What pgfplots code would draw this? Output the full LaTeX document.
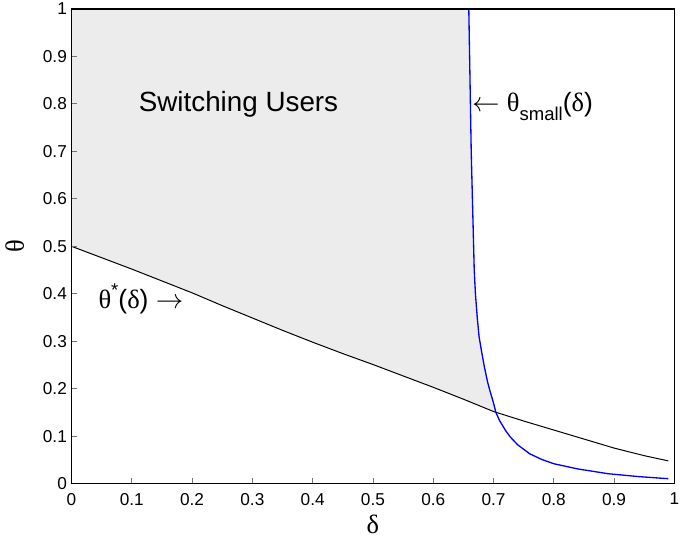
\documentclass[border=0pt]{standalone}
\usepackage{pgfplots}
\pgfplotsset{compat=1.18}
\usepackage{fontspec}
\setmainfont{Liberation Sans}
\newfontfamily\grk{Liberation Serif}
\definecolor{regiongray}{RGB}{236,236,236}
\definecolor{curveblue}{RGB}{0,0,255}

\pgfplotstableread{
d t
0 0.5
0.05 0.476
0.1 0.452
0.15 0.427
0.2 0.402
0.25 0.375
0.3 0.349
0.35 0.323
0.4 0.298
0.45 0.274
0.5 0.251
0.55 0.227
0.6 0.203
0.65 0.178
0.7 0.152
0.75 0.132
0.8 0.113
0.85 0.094
0.9 0.075
0.95 0.059
0.99 0.048
}\thetastar

\pgfplotstableread{
d t
0.659 1.0
0.661 0.85
0.663 0.70
0.665 0.6
0.668 0.45
0.670 0.40
0.673 0.35
0.676 0.31
0.680 0.28
0.685 0.245
0.690 0.215
0.694 0.196
0.700 0.170
0.704 0.150
0.71 0.133
0.72 0.112
0.728 0.098
0.74 0.082
0.76 0.063
0.78 0.051
0.80 0.042
0.84 0.031
0.89 0.021
0.94 0.015
0.99 0.0105
}\thetasmall

\begin{document}
\begin{tikzpicture}
\begin{axis}[name=ax, scale only axis, width=455.25pt, height=358.5pt,
  xmin=0, xmax=1, ymin=0, ymax=1,
  xtick={0,0.1,0.2,0.3,0.4,0.5,0.6,0.7,0.8,0.9,1},
  ytick={0,0.1,0.2,0.3,0.4,0.5,0.6,0.7,0.8,0.9,1},
  tick pos=left, tick align=inside,
  major tick length=4.5pt,
  tick style={black!55, line width=0.6pt},
  axis line style={black, line width=1.1pt},
  ticklabel style={font=\fontsize{13}{15}\selectfont},
  xticklabel style={yshift=-3.5pt},
  /pgf/number format/assume math mode=true,
  xlabel={\grk δ}, ylabel={\grk θ},
  xlabel style={font=\fontsize{20}{22}\selectfont, at={(axis description cs:0.5,-0.086)}, anchor=center},
  ylabel style={font=\fontsize{20}{22}\selectfont, at={(axis description cs:-0.094,0.5)}, anchor=center},
  axis on top,
]
\addplot[fill=regiongray, draw=none] coordinates {
(0,1) (0,0.5) (0.05,0.476) (0.1,0.452) (0.15,0.427) (0.2,0.402) (0.25,0.375)
(0.3,0.349) (0.35,0.323) (0.4,0.298) (0.45,0.274) (0.5,0.251) (0.55,0.227)
(0.6,0.203) (0.65,0.178) (0.7,0.152) (0.704,0.150) (0.700,0.170) (0.694,0.196)
(0.690,0.215) (0.685,0.245) (0.680,0.28) (0.676,0.31) (0.673,0.35) (0.670,0.40)
(0.668,0.45) (0.665,0.6) (0.663,0.70) (0.661,0.85) (0.659,1.0)} -- cycle;
\addplot[black, line width=0.75pt] table[x=d, y=t] {\thetastar};
\addplot[curveblue, line width=1pt] table[x=d, y=t] {\thetasmall};
\node[font=\fontsize{21}{24}\selectfont] at (axis cs:0.277,0.80) {Switching Users};
\node[font=\fontsize{20}{22}\selectfont, anchor=west, inner sep=0pt] at (axis cs:0.664,0.795)
  {$\leftarrow$\ {\grk θ}\raisebox{-0.35em}{\fontsize{14}{16}\selectfont small}({\grk δ})};
\node[font=\fontsize{20}{22}\selectfont, anchor=east, inner sep=0pt] at (axis cs:0.186,0.39)
  {{\grk θ}\raisebox{0.45em}{\fontsize{14}{16}\selectfont *}({\grk δ}) $\rightarrow$};
\end{axis}
\pgfresetboundingbox
\useasboundingbox ([xshift=-54pt, yshift=-43.5pt]ax.south west) rectangle ([xshift=5pt, yshift=6.75pt]ax.north east);
\end{tikzpicture}
\end{document}
